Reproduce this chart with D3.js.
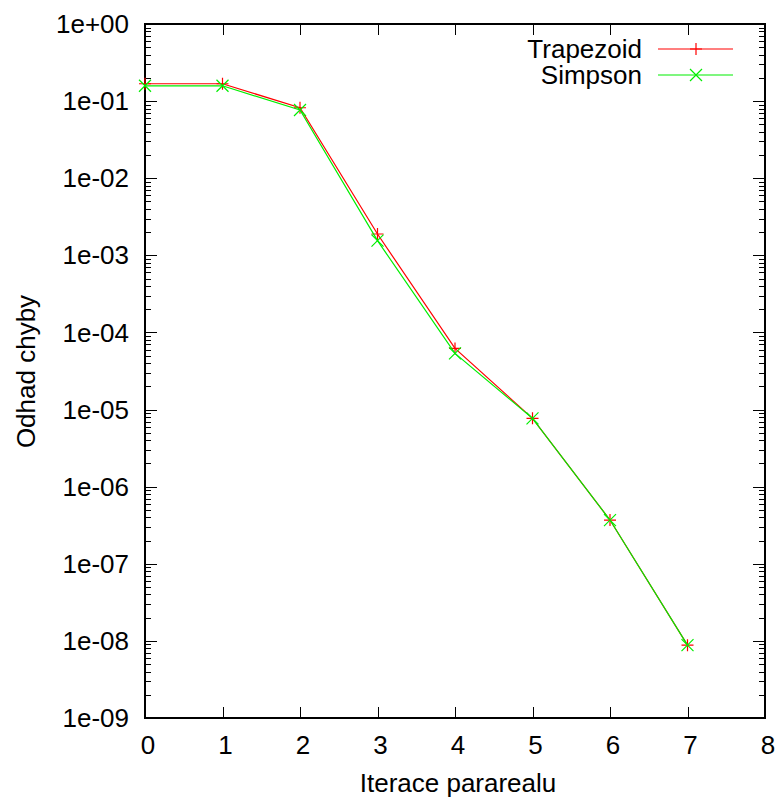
<!DOCTYPE html>
<html>
<head>
<meta charset="utf-8">
<script src="https://cdn.jsdelivr.net/npm/d3@7"></script>
<style>
  body { margin: 0; background: #fff; }
  text { font-family: "Liberation Sans", Arial, sans-serif; }
</style>
</head>
<body>
<div id="chart"></div>
<script>
// data
var iterations = [0, 1, 2, 3, 4, 5, 6, 7];
var trapezoid = [0.168, 0.168, 0.082, 1.89e-3, 6.2e-5, 7.7e-6, 3.69e-7, 8.8e-9];
var simpson   = [0.158, 0.158, 0.0767, 1.55e-3, 5.35e-5, 7.7e-6, 3.69e-7, 8.8e-9];
var yTickLabels = ["1e+00","1e-01","1e-02","1e-03","1e-04","1e-05","1e-06","1e-07","1e-08","1e-09"];
var xTicks = [0, 1, 2, 3, 4, 5, 6, 7, 8];

var margin = {top: 24, right: 12, bottom: 82, left: 145};
var W = 777, H = 800;
var width = W - margin.left - margin.right;
var height = H - margin.top - margin.bottom;
var fs = 26;

var svg = d3.select("#chart").append("svg")
    .attr("width", W)
    .attr("height", H)
  .append("g")
    .attr("transform", "translate(" + margin.left + "," + margin.top + ")");

var x = d3.scaleLinear().domain([0, 8]).range([0, width]);
var y = d3.scaleLog().domain([1e-9, 1]).range([height, 0]);

var majorVals = d3.range(0, -10, -1).map(function(e) { return Math.pow(10, e); });
var minorVals = [];
for (var e = -9; e < 0; e++) {
  for (var m = 2; m <= 9; m++) minorVals.push(m * Math.pow(10, e));
}

var ticks = svg.append("g").attr("stroke", "#000").attr("stroke-width", 1);

// y major ticks, left and right
majorVals.forEach(function(v) {
  var yy = Math.round(y(v)) + 0.5;
  ticks.append("line").attr("x1", 0).attr("x2", 12).attr("y1", yy).attr("y2", yy);
  ticks.append("line").attr("x1", width).attr("x2", width - 12).attr("y1", yy).attr("y2", yy);
});
// y minor ticks
minorVals.forEach(function(v) {
  var yy = Math.round(y(v)) + 0.5;
  ticks.append("line").attr("x1", 0).attr("x2", 6).attr("y1", yy).attr("y2", yy);
  ticks.append("line").attr("x1", width).attr("x2", width - 6).attr("y1", yy).attr("y2", yy);
});
// x ticks bottom and top
xTicks.forEach(function(v) {
  var xx = Math.round(x(v)) + 0.5;
  ticks.append("line").attr("x1", xx).attr("x2", xx).attr("y1", height).attr("y2", height - 11);
  ticks.append("line").attr("x1", xx).attr("x2", xx).attr("y1", 0).attr("y2", 11);
});

// tick labels
svg.selectAll(".ylab").data(majorVals).enter().append("text")
    .attr("x", -16)
    .attr("y", function(d) { return y(d); })
    .attr("dy", "0.35em")
    .attr("text-anchor", "end")
    .attr("font-size", fs)
    .text(function(d, i) { return yTickLabels[i]; });

svg.selectAll(".xlab").data(xTicks).enter().append("text")
    .attr("x", function(d) { return x(d) + 3; })
    .attr("y", height + 27)
    .attr("dy", "0.35em")
    .attr("text-anchor", "middle")
    .attr("font-size", fs)
    .text(function(d) { return d; });

// frame
svg.append("rect")
    .attr("width", width).attr("height", height)
    .attr("fill", "none").attr("stroke", "#000").attr("stroke-width", 2);

var line = d3.line()
    .x(function(d, i) { return x(iterations[i]); })
    .y(function(d) { return y(d); });

function plus(g, cx, cy, color) {
  g.append("path").attr("d", "M" + (cx - 6) + "," + cy + "H" + (cx + 6) + "M" + cx + "," + (cy - 6) + "V" + (cy + 6))
    .attr("stroke", color).attr("stroke-width", 1.2).attr("fill", "none");
}
function cross(g, cx, cy, color) {
  g.append("path").attr("d", "M" + (cx - 6) + "," + (cy - 6) + "L" + (cx + 6) + "," + (cy + 6) + "M" + (cx - 6) + "," + (cy + 6) + "L" + (cx + 6) + "," + (cy - 6))
    .attr("stroke", color).attr("stroke-width", 1.2).attr("fill", "none");
}

var series = [
  {name: "Trapezoid", values: trapezoid, color: "#ff0000", marker: plus},
  {name: "Simpson", values: simpson, color: "#00ee00", marker: cross}
];

series.forEach(function(s, k) {
  svg.append("path")
      .datum(s.values)
      .attr("fill", "none")
      .attr("stroke", s.color)
      .attr("stroke-width", 1.2)
      .attr("d", line);
  var g = svg.append("g");
  s.values.forEach(function(v, i) { s.marker(g, x(iterations[i]), y(v), s.color); });

  // legend
  var ly = 25 + k * 26;
  svg.append("text")
      .attr("x", 497).attr("y", ly).attr("dy", "0.35em")
      .attr("text-anchor", "end").attr("font-size", fs)
      .text(s.name);
  svg.append("line")
      .attr("x1", 513).attr("x2", 588).attr("y1", ly).attr("y2", ly)
      .attr("stroke", s.color).attr("stroke-width", 1.2);
  s.marker(svg.append("g"), 551, ly, s.color);
});

// axis titles
svg.append("text")
    .attr("transform", "translate(" + (width / 2 + 3) + "," + (height + 74) + ")")
    .attr("text-anchor", "middle").attr("font-size", fs)
    .text("Iterace pararealu");

svg.append("text")
    .attr("transform", "rotate(-90)")
    .attr("x", -347.5)
    .attr("y", -110)
    .attr("text-anchor", "middle").attr("font-size", fs)
    .text("Odhad chyby");
</script>
</body>
</html>
